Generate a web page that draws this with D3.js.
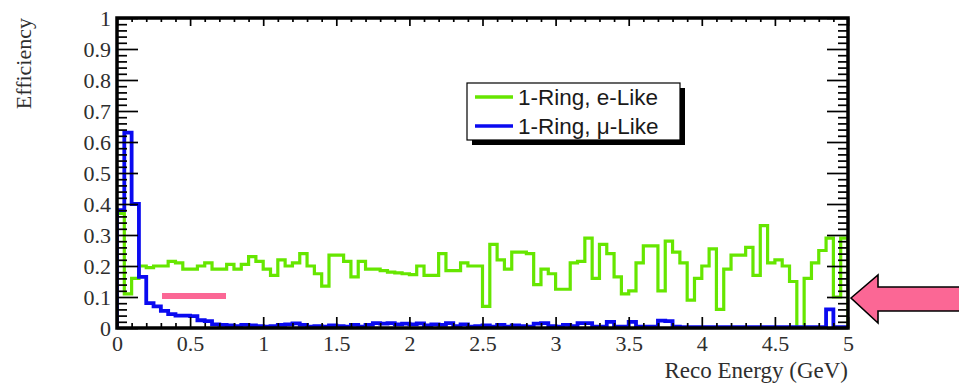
<!DOCTYPE html>
<html>
<head>
<meta charset="utf-8">
<script src="https://cdn.jsdelivr.net/npm/d3@7"></script>
<style>
  html, body { margin: 0; padding: 0; background: #fff; }
  svg { display: block; }
</style>
</head>
<body>
<svg id="chart" width="959" height="383"></svg>
<script>
// Reco energy bins: 100 bins of 0.05 GeV from 0 to 5 GeV
const binEdgesLow = d3.range(100).map(i => i * 0.05);
const binWidth = 0.05;

// 1-Ring, e-Like efficiency per bin
const eLike = [
  0.37, 0.11, 0.16, 0.20, 0.195, 0.20, 0.20, 0.215, 0.21, 0.19,
  0.19, 0.20, 0.21, 0.19, 0.19, 0.205, 0.19, 0.205, 0.23, 0.215,
  0.19, 0.17, 0.22, 0.20, 0.21, 0.24, 0.20, 0.175, 0.135, 0.235,
  0.235, 0.215, 0.165, 0.215, 0.19, 0.19, 0.185, 0.18, 0.178, 0.175,
  0.172, 0.20, 0.17, 0.17, 0.24, 0.185, 0.185, 0.21, 0.20, 0.20,
  0.07, 0.27, 0.22, 0.19, 0.245, 0.245, 0.24, 0.14, 0.19, 0.175,
  0.125, 0.125, 0.21, 0.215, 0.29, 0.16, 0.27, 0.24, 0.165, 0.11,
  0.12, 0.21, 0.265, 0.265, 0.12, 0.28, 0.245, 0.21, 0.09, 0.16,
  0.20, 0.255, 0.06, 0.19, 0.235, 0.235, 0.26, 0.17, 0.33, 0.21,
  0.22, 0.20, 0.15, 0.0, 0.16, 0.21, 0.25, 0.29, 0.10, 0.29
];

// 1-Ring, mu-Like efficiency per bin
const muLike = [
  0.38, 0.63, 0.40, 0.165, 0.08, 0.07, 0.055, 0.045, 0.04, 0.04,
  0.038, 0.025, 0.022, 0.012, 0.01, 0.008, 0.006, 0.01, 0.008, 0.006,
  0.004, 0.006, 0.01, 0.012, 0.015, 0.01, 0.004, 0.006, 0.004, 0.008,
  0.006, 0.004, 0.01, 0.004, 0.01, 0.016, 0.014, 0.016, 0.012, 0.014,
  0.012, 0.015, 0.008, 0.012, 0.01, 0.016, 0.006, 0.012, 0.004, 0.006,
  0.008, 0.004, 0.01, 0.004, 0.008, 0.006, 0.004, 0.014, 0.016, 0.006,
  0.004, 0.01, 0.006, 0.016, 0.016, 0.004, 0.004, 0.02, 0.004, 0.004,
  0.02, 0.004, 0.004, 0.004, 0.024, 0.022, 0.004, 0.003, 0.003, 0.003,
  0.003, 0.003, 0.003, 0.003, 0.003, 0.003, 0.003, 0.003, 0.003, 0.003,
  0.003, 0.003, 0.003, 0.003, 0.003, 0.003, 0.003, 0.06, 0.003, 0.003
];

const seriesNames = ["1-Ring, e-Like", "1-Ring, \u03bc-Like"];
const seriesColors = ["#66e600", "#0a0af0"];
const seriesWidths = [3.2, 3.8];

const xMajorTicks = [0, 0.5, 1, 1.5, 2, 2.5, 3, 3.5, 4, 4.5, 5];
const xTickLabels = ["0", "0.5", "1", "1.5", "2", "2.5", "3", "3.5", "4", "4.5", "5"];
const yMajorTicks = [0, 0.1, 0.2, 0.3, 0.4, 0.5, 0.6, 0.7, 0.8, 0.9, 1];
const yTickLabels = ["0", "0.1", "0.2", "0.3", "0.4", "0.5", "0.6", "0.7", "0.8", "0.9", "1"];
const xMinorTicks = d3.range(0, 51).map(i => i / 10).filter(v => Math.round(v * 10) % 5 !== 0);
const yMinorTicks = d3.range(0, 51).map(i => i / 50).filter(v => Math.round(v * 50) % 5 !== 0);

const svg = d3.select("#chart");
const L = 117, R = 848, T = 18, B = 328;

const x = d3.scaleLinear().domain([0, 5]).range([L, R]);
const y = d3.scaleLinear().domain([0, 1]).range([B, T]);

// Step outline of a histogram, as drawn by ROOT
function stepPath(values) {
  const p = d3.path();
  p.moveTo(x(0), y(0));
  values.forEach((v, i) => {
    const lo = binEdgesLow[i], hi = lo + binWidth;
    p.lineTo(x(lo), y(v));
    p.lineTo(x(hi), y(v));
  });
  p.lineTo(x(5), y(0));
  return p.toString();
}

svg.append("defs").append("clipPath").attr("id", "plot")
  .append("rect").attr("x", L).attr("y", T).attr("width", R - L).attr("height", B - T);

const hist = svg.append("g").attr("clip-path", "url(#plot)");
[eLike, muLike].forEach((vals, k) => {
  hist.append("path")
    .attr("d", stepPath(vals))
    .attr("fill", "none")
    .attr("stroke", seriesColors[k])
    .attr("stroke-width", seriesWidths[k])
    .attr("stroke-linejoin", "miter");
});

// Axes: ticks point into the frame
const tickFont = "'Liberation Serif', 'Times New Roman', serif";
const textColor = "#2e2e2e";

function styleAxis(g) {
  g.select(".domain").remove();
  g.selectAll(".tick line").attr("stroke", "#000").attr("stroke-width", 1.7);
  g.selectAll(".tick text")
    .attr("font-family", tickFont)
    .attr("font-size", 22)
    .attr("fill", textColor);
}

// bottom
svg.append("g").attr("transform", `translate(0,${B})`)
  .call(d3.axisBottom(x).tickValues(xMinorTicks).tickSize(-5).tickFormat(""))
  .call(styleAxis);
svg.append("g").attr("transform", `translate(0,${B})`)
  .call(d3.axisBottom(x).tickValues(xMajorTicks).tickSize(-11).tickPadding(7)
    .tickFormat((d, i) => xTickLabels[i]))
  .call(styleAxis);
// top
svg.append("g").attr("transform", `translate(0,${T})`)
  .call(d3.axisTop(x).tickValues(xMinorTicks).tickSize(-4).tickFormat(""))
  .call(styleAxis);
svg.append("g").attr("transform", `translate(0,${T})`)
  .call(d3.axisTop(x).tickValues(xMajorTicks).tickSize(-8).tickFormat(""))
  .call(styleAxis);
// left
svg.append("g").attr("transform", `translate(${L},0)`)
  .call(d3.axisLeft(y).tickValues(yMinorTicks).tickSize(-10).tickFormat(""))
  .call(styleAxis);
svg.append("g").attr("transform", `translate(${L},0)`)
  .call(d3.axisLeft(y).tickValues(yMajorTicks).tickSize(-21).tickPadding(6)
    .tickFormat((d, i) => yTickLabels[i]))
  .call(styleAxis);
// right
svg.append("g").attr("transform", `translate(${R},0)`)
  .call(d3.axisRight(y).tickValues(yMinorTicks).tickSize(-10).tickFormat(""))
  .call(styleAxis);
svg.append("g").attr("transform", `translate(${R},0)`)
  .call(d3.axisRight(y).tickValues(yMajorTicks).tickSize(-21).tickFormat(""))
  .call(styleAxis);

// frame
svg.append("rect")
  .attr("x", L).attr("y", T).attr("width", R - L).attr("height", B - T)
  .attr("fill", "none").attr("stroke", "#000").attr("stroke-width", 3.5);

// axis titles
svg.append("text")
  .attr("x", R).attr("y", 378)
  .attr("text-anchor", "end")
  .attr("font-family", tickFont).attr("font-size", 23).attr("fill", textColor)
  .text("Reco Energy (GeV)");
svg.append("text")
  .attr("transform", `translate(31,${T}) rotate(-90)`)
  .attr("text-anchor", "end")
  .attr("font-family", tickFont).attr("font-size", 22).attr("fill", textColor)
  .text("Efficiency");

// legend with drop shadow
const lg = { x: 467, y: 83, w: 213, h: 57 };
svg.append("rect").attr("x", lg.x + 5).attr("y", lg.y + 5).attr("width", lg.w).attr("height", lg.h).attr("fill", "#000");
svg.append("rect").attr("x", lg.x).attr("y", lg.y).attr("width", lg.w).attr("height", lg.h)
  .attr("fill", "#fff").attr("stroke", "#000").attr("stroke-width", 1.2);
seriesNames.forEach((name, k) => {
  const cy = lg.y + 14 + k * 29;
  svg.append("line").attr("x1", lg.x + 8).attr("x2", lg.x + 46).attr("y1", cy).attr("y2", cy)
    .attr("stroke", seriesColors[k]).attr("stroke-width", 3.5);
  svg.append("text").attr("x", lg.x + 51).attr("y", cy + 8)
    .attr("font-family", "'Liberation Sans', Arial, sans-serif").attr("font-size", 22.5).attr("fill", "#1a1a1a")
    .text(name);
});

// highlight bar and arrow marking the 0.1 level
svg.append("rect").attr("x", 162).attr("y", 293).attr("width", 64).attr("height", 6).attr("fill", "#fb6795");
const arrow = d3.path();
arrow.moveTo(851, 298);
arrow.lineTo(878, 275);
arrow.lineTo(878, 287);
arrow.lineTo(962, 287);
arrow.lineTo(962, 311);
arrow.lineTo(878, 311);
arrow.lineTo(878, 323);
arrow.closePath();
svg.append("path").attr("d", arrow.toString())
  .attr("fill", "#fb6795").attr("stroke", "#000").attr("stroke-width", 1.6).attr("stroke-linejoin", "miter");
</script>
</body>
</html>
